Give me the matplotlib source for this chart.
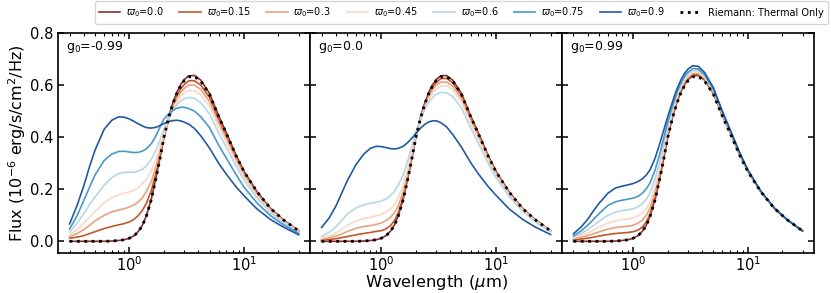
import matplotlib
matplotlib.use("Agg")
import matplotlib.pyplot as plt

# wavelength grid (micron)
wavelength = [0.3, 0.35, 0.4, 0.45, 0.5, 0.6, 0.7, 0.8, 0.9, 1.0,
              1.1, 1.2, 1.3, 1.4, 1.55, 1.7, 1.85, 2.0, 2.2, 2.4,
              2.6, 2.8, 3.0, 3.3, 3.7, 4.2, 5.0, 6.0, 7.0, 8.5,
              10, 13, 17, 22, 30]

w0_values = [0.0, 0.15, 0.3, 0.45, 0.6, 0.75, 0.9]
g0_values = [-0.99, 0.0, 0.99]

# thermal-only (Riemann) flux, same in every panel
thermal = [0, 0, 0, 0, 0, 0, 0.001, 0.003, 0.006, 0.012,
           0.022, 0.038, 0.062, 0.095, 0.16, 0.24, 0.32, 0.4, 0.475, 0.53,
           0.57, 0.598, 0.617, 0.632, 0.633, 0.615, 0.565, 0.48, 0.415, 0.33,
           0.268, 0.19, 0.127, 0.083, 0.04]

w00 = [0, 0, 0, 0, 0, 0, 0.001, 0.003, 0.006, 0.012,
       0.022, 0.039, 0.063, 0.097, 0.162, 0.243, 0.323, 0.403, 0.478, 0.534,
       0.574, 0.602, 0.621, 0.636, 0.637, 0.619, 0.568, 0.483, 0.418, 0.332,
       0.269, 0.19, 0.127, 0.083, 0.04]

# g0 = -0.99
flux_gm = [
    w00,
    [0.012, 0.016, 0.022, 0.03, 0.037, 0.049, 0.057, 0.063, 0.068, 0.075,
     0.085, 0.1, 0.12, 0.145, 0.195, 0.26, 0.33, 0.4, 0.47, 0.522,
     0.56, 0.585, 0.602, 0.617, 0.617, 0.6, 0.552, 0.47, 0.407, 0.324,
     0.262, 0.185, 0.124, 0.081, 0.039],
    [0.018, 0.03, 0.045, 0.062, 0.078, 0.1, 0.113, 0.12, 0.125, 0.132,
     0.14, 0.152, 0.168, 0.19, 0.23, 0.285, 0.345, 0.405, 0.47, 0.515,
     0.55, 0.572, 0.587, 0.6, 0.6, 0.583, 0.537, 0.457, 0.396, 0.316,
     0.256, 0.18, 0.121, 0.079, 0.038],
    [0.024, 0.045, 0.07, 0.094, 0.115, 0.148, 0.168, 0.178, 0.185, 0.19,
     0.197, 0.207, 0.22, 0.238, 0.27, 0.315, 0.365, 0.415, 0.47, 0.508,
     0.537, 0.557, 0.57, 0.58, 0.578, 0.562, 0.518, 0.441, 0.382, 0.305,
     0.247, 0.174, 0.117, 0.076, 0.036],
    [0.035, 0.07, 0.108, 0.142, 0.17, 0.215, 0.245, 0.26, 0.265, 0.265,
     0.266, 0.27, 0.277, 0.29, 0.315, 0.35, 0.39, 0.43, 0.475, 0.505,
     0.525, 0.54, 0.548, 0.553, 0.549, 0.532, 0.49, 0.417, 0.362, 0.29,
     0.235, 0.166, 0.111, 0.072, 0.034],
    [0.047, 0.1, 0.158, 0.21, 0.255, 0.31, 0.335, 0.345, 0.346, 0.343,
     0.341, 0.342, 0.347, 0.355, 0.375, 0.405, 0.44, 0.47, 0.49, 0.503,
     0.511, 0.515, 0.515, 0.51, 0.5, 0.478, 0.437, 0.37, 0.32, 0.257,
     0.208, 0.147, 0.099, 0.064, 0.03],
    [0.067, 0.14, 0.215, 0.29, 0.35, 0.43, 0.465, 0.478, 0.477, 0.47,
     0.46, 0.451, 0.443, 0.437, 0.435, 0.438, 0.445, 0.452, 0.46, 0.464,
     0.465, 0.463, 0.458, 0.45, 0.433, 0.405, 0.358, 0.3, 0.258, 0.21,
     0.175, 0.124, 0.084, 0.055, 0.025],
]

# g0 = 0.0 (no w0=0.75 curve in this panel)
flux_g0 = [
    w00,
    [0.004, 0.007, 0.01, 0.014, 0.018, 0.025, 0.03, 0.034, 0.038, 0.041,
     0.048, 0.06, 0.08, 0.108, 0.17, 0.245, 0.325, 0.4, 0.472, 0.526,
     0.565, 0.592, 0.61, 0.625, 0.626, 0.609, 0.56, 0.477, 0.412, 0.328,
     0.265, 0.187, 0.125, 0.082, 0.04],
    [0.008, 0.014, 0.02, 0.028, 0.037, 0.05, 0.057, 0.06, 0.065, 0.07,
     0.08, 0.092, 0.11, 0.135, 0.19, 0.26, 0.335, 0.405, 0.47, 0.52,
     0.558, 0.583, 0.6, 0.612, 0.612, 0.596, 0.548, 0.467, 0.404, 0.322,
     0.261, 0.184, 0.123, 0.08, 0.039],
    [0.012, 0.022, 0.032, 0.046, 0.06, 0.078, 0.087, 0.092, 0.098, 0.104,
     0.113, 0.124, 0.142, 0.168, 0.215, 0.28, 0.345, 0.41, 0.468, 0.513,
     0.547, 0.57, 0.585, 0.597, 0.597, 0.582, 0.535, 0.456, 0.395, 0.315,
     0.255, 0.18, 0.121, 0.078, 0.038],
    [0.019, 0.035, 0.055, 0.08, 0.104, 0.128, 0.14, 0.146, 0.15, 0.155,
     0.163, 0.175, 0.192, 0.215, 0.255, 0.31, 0.365, 0.42, 0.47, 0.508,
     0.535, 0.553, 0.565, 0.572, 0.571, 0.556, 0.512, 0.437, 0.378, 0.302,
     0.245, 0.173, 0.116, 0.075, 0.036],
    None,
    [0.053, 0.09, 0.135, 0.185, 0.23, 0.295, 0.335, 0.357, 0.365, 0.364,
     0.36, 0.356, 0.355, 0.357, 0.365, 0.38, 0.397, 0.415, 0.435, 0.45,
     0.459, 0.463, 0.463, 0.456, 0.44, 0.41, 0.362, 0.303, 0.26, 0.212,
     0.177, 0.125, 0.085, 0.055, 0.026],
]

# g0 = 0.99
flux_gp = [
    w00,
    [0.006, 0.009, 0.012, 0.016, 0.02, 0.026, 0.03, 0.032, 0.034, 0.037,
     0.043, 0.055, 0.075, 0.105, 0.17, 0.25, 0.33, 0.41, 0.485, 0.54,
     0.58, 0.607, 0.625, 0.64, 0.64, 0.622, 0.571, 0.486, 0.42, 0.334,
     0.27, 0.19, 0.127, 0.083, 0.04],
    [0.01, 0.016, 0.022, 0.029, 0.036, 0.047, 0.053, 0.056, 0.058, 0.062,
     0.07, 0.082, 0.1, 0.128, 0.19, 0.265, 0.345, 0.42, 0.492, 0.547,
     0.586, 0.613, 0.63, 0.645, 0.645, 0.626, 0.574, 0.488, 0.421, 0.335,
     0.27, 0.19, 0.127, 0.083, 0.04],
    [0.013, 0.022, 0.032, 0.043, 0.054, 0.07, 0.079, 0.083, 0.086, 0.09,
     0.097, 0.108, 0.125, 0.15, 0.21, 0.28, 0.357, 0.43, 0.5, 0.554,
     0.593, 0.619, 0.636, 0.65, 0.65, 0.63, 0.577, 0.49, 0.422, 0.336,
     0.271, 0.19, 0.127, 0.083, 0.04],
    [0.016, 0.03, 0.045, 0.061, 0.077, 0.1, 0.112, 0.118, 0.121, 0.125,
     0.133, 0.145, 0.162, 0.185, 0.24, 0.305, 0.375, 0.445, 0.51, 0.562,
     0.6, 0.626, 0.643, 0.657, 0.656, 0.635, 0.58, 0.492, 0.424, 0.337,
     0.272, 0.19, 0.127, 0.083, 0.04],
    [0.021, 0.04, 0.062, 0.085, 0.106, 0.138, 0.152, 0.158, 0.162, 0.166,
     0.173, 0.185, 0.202, 0.225, 0.275, 0.335, 0.4, 0.46, 0.522, 0.572,
     0.608, 0.634, 0.65, 0.664, 0.662, 0.64, 0.584, 0.495, 0.426, 0.338,
     0.273, 0.191, 0.128, 0.083, 0.04],
    [0.029, 0.055, 0.085, 0.118, 0.145, 0.185, 0.205, 0.212, 0.217, 0.222,
     0.23, 0.24, 0.255, 0.275, 0.32, 0.375, 0.43, 0.48, 0.537, 0.585,
     0.62, 0.645, 0.662, 0.675, 0.672, 0.648, 0.59, 0.499, 0.429, 0.34,
     0.274, 0.192, 0.128, 0.083, 0.04],
]

colors = ['#8a2d2b', '#c0582c', '#e9a27d', '#f6d9c9', '#b7d7e9', '#4b98c8', '#205a9f']

fig, axes = plt.subplots(1, 3, figsize=(8.31, 2.93), dpi=100, sharey=True)
fig.subplots_adjust(left=0.07, right=0.9795, top=0.887, bottom=0.1365, wspace=0)

for ax, g0, fluxes in zip(axes, g0_values, [flux_gm, flux_g0, flux_gp]):
    for w0, fl, c in zip(w0_values, fluxes, colors):
        lab = r'$\varpi_0$=' + str(w0)
        if fl is None:
            ax.plot([], [], color=c, lw=1.2, label=lab)
            continue
        ax.plot(wavelength, fl, color=c, lw=1.2, label=lab)
    ax.plot(wavelength, thermal, color='k', ls=':', lw=2, label='Riemann: Thermal Only')
    ax.set_xscale('log')
    ax.set_ylim(-0.045, 0.8)
    ax.text(0.03, 0.975, r'g$_0$=' + str(g0), transform=ax.transAxes,
            ha='left', va='top', fontsize=9)
    ax.tick_params(which='both', direction='in', top=True, right=True, labelsize=10.5)
    ax.tick_params(which='major', length=4.5, width=1.1)
    ax.tick_params(which='minor', length=2.5, width=0.8)
    ax.tick_params(axis='x', which='major', pad=2)
    for sp in ax.spines.values():
        sp.set_linewidth(1.2)

axes[0].set_yticks([0.0, 0.2, 0.4, 0.6, 0.8])
axes[0].set_ylabel(r'Flux (10$^{-6}$ erg/s/cm$^2$/Hz)', fontsize=11.5, labelpad=1)
axes[1].set_xlabel(r'Wavelength ($\mu$m)', fontsize=11.8, labelpad=-1)

handles, labels = axes[0].get_legend_handles_labels()
fig.legend(handles, labels, loc='upper right', bbox_to_anchor=(0.996, 0.996), ncol=8,
           fontsize=7, handlelength=2.2, columnspacing=1.6, handletextpad=0.6,
           borderaxespad=0.0, borderpad=0.45)

fig.savefig('out.png', dpi=100)
